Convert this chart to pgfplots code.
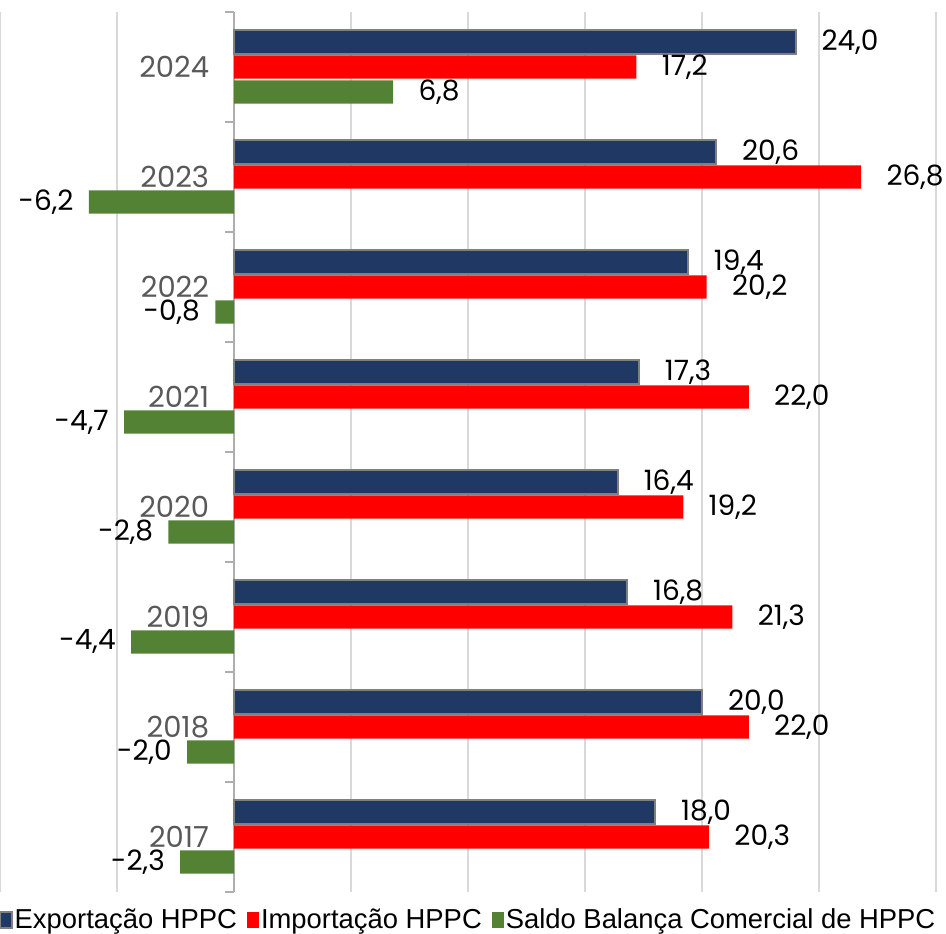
\documentclass[border=0pt]{standalone}
\usepackage{fontspec}
\setmainfont{Liberation Sans}
\newfontfamily\lblfont{Poppins}
\usepackage{pgfplots}
\usepackage{pgfplotstable}
\pgfplotsset{compat=1.18}

\definecolor{navy}{HTML}{203864}
\definecolor{imp}{HTML}{FF0000}
\definecolor{saldo}{HTML}{548235}
\definecolor{gridc}{HTML}{D9D9D9}
\definecolor{yearc}{HTML}{595959}

% y = 1 (2017) ... 8 (2024)
\pgfplotstableread{
pos exp imp saldo
1 18.0 20.3 -2.3
2 20.0 22.0 -2.0
3 16.8 21.3 -4.4
4 16.4 19.2 -2.8
5 17.3 22.0 -4.7
6 19.4 20.2 -0.8
7 20.6 26.8 -6.2
8 24.0 17.2 6.8
}\datatab

\begin{document}
\begin{tikzpicture}
\begin{axis}[
    scale only axis,
    width=468pt, height=440pt,
    xmin=-10, xmax=30, ymin=0.5, ymax=8.5,
    xbar, bar width=0.21,
    axis x line=bottom,
    axis y line=middle,
    axis line style={-, draw=gridc!80!black, line width=1pt},
    x axis line style={draw=none},
    xtick={-10,-5,...,30}, xticklabels={},
    major x tick style={draw=none},
    xmajorgrids, major grid style={gridc, line width=1pt},
    ytick={1,...,8},
    yticklabels={2017,2018,2019,2020,2021,2022,2023,2024},
    minor ytick={0.5,1.5,...,8.5},
    major y tick style={draw=none},
    minor y tick style={draw=gridc!80!black, line width=1pt},
    minor tick length=4.5pt,
    tick align=outside,
    hide obscured y ticks=false,
    yticklabel style={font=\lblfont\fontsize{14.5}{14.5}\selectfont, text=yearc, inner sep=0pt, xshift=-8pt},
    /pgf/number format/.cd, fixed, fixed zerofill, precision=1, use comma, assume math mode=true,
    /pgfplots/.cd,
    visualization depends on={x \as \rawx},
    nodes near coords,
    nodes near coords align=horizontal,
    every node near coord/.append style={font=\lblfont\fontsize{14}{14}\selectfont, text=black, inner sep=0pt,
        xshift={ifthenelse(\rawx<0,-7.5,12.5)}},
    legend columns=3,
    legend style={at={(0.5,0)}, anchor=center, yshift=-14pt, draw=none, fill=none, inner sep=0pt,
        font=\fontsize{13.7}{15}\selectfont,
        nodes={inner xsep=1pt, inner ysep=1pt},
        /tikz/every odd column/.append style={column sep=0pt},
        /tikz/every even column/.append style={column sep=4pt}},
    legend image code/.code={\fill[#1] (0pt,-3.8pt) rectangle (6pt,3.8pt);},
]
\addplot[fill=navy, draw=gray, line width=1pt, bar shift=0.227] table[x=exp, y=pos] {\datatab};
\addlegendentry{Exportação HPPC}
\addplot[fill=imp, draw=none, bar shift=0] table[x=imp, y=pos] {\datatab};
\addlegendentry{Importação HPPC}
\addplot[fill=saldo, draw=none, bar shift=-0.227] table[x=saldo, y=pos] {\datatab};
\addlegendentry{Saldo Balança Comercial de HPPC}
\coordinate (bl) at (rel axis cs:0,0);
\coordinate (tr) at (rel axis cs:1,1);
\end{axis}
\pgfresetboundingbox
\path ([yshift=-21pt]bl) rectangle ([xshift=5pt,yshift=6pt]tr);
\end{tikzpicture}
\end{document}
